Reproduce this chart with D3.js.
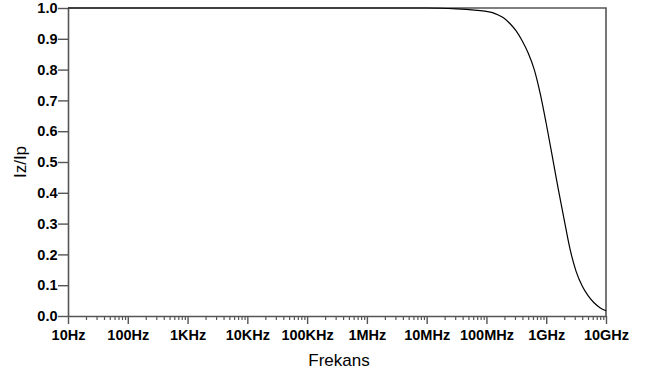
<!DOCTYPE html>
<html>
<head>
<meta charset="utf-8">
<script src="https://cdn.jsdelivr.net/npm/d3@7/dist/d3.min.js"></script>
<style>
  body { margin: 0; background: #fff; }
  svg { display: block; font-family: "Liberation Sans", Arial, sans-serif; }
</style>
</head>
<body>
<svg id="chart" width="649" height="378"></svg>
<script>
// Frequency response: ratio Iz/Ip versus frequency (Hz)
const frequencies = [1e1, 1e3, 1e5, 1e7, 3.16e7, 6.31e7, 1e8, 1.26e8, 1.58e8, 2e8, 2.51e8, 3.16e8,
                     3.98e8, 5.01e8, 6.31e8, 7.94e8, 1e9, 1.26e9, 1.58e9, 2e9, 2.51e9, 3.16e9,
                     3.98e9, 5.01e9, 6.31e9, 7.94e9, 1e10];
const ratio       = [1.0, 1.0, 1.0, 1.0, 0.997, 0.993, 0.989, 0.985, 0.977, 0.966, 0.948, 0.925,
                     0.893, 0.853, 0.800, 0.722, 0.625, 0.520, 0.415, 0.312, 0.216, 0.145,
                     0.098, 0.066, 0.043, 0.027, 0.017];

const xTickValues = [1e1, 1e2, 1e3, 1e4, 1e5, 1e6, 1e7, 1e8, 1e9, 1e10];
const xTickLabels = ["10Hz", "100Hz", "1KHz", "10KHz", "100KHz", "1MHz", "10MHz", "100MHz", "1GHz", "10GHz"];
const yTickValues = [0, 0.1, 0.2, 0.3, 0.4, 0.5, 0.6, 0.7, 0.8, 0.9, 1.0];

const margin = { left: 68, right: 43, top: 8, bottom: 62 };
const W = 649, H = 378;
const svg = d3.select("#chart");

const x = d3.scaleLog().domain([1e1, 1e10]).range([margin.left, W - margin.right]);
const y = d3.scaleLinear().domain([0, 1]).range([H - margin.bottom, margin.top]);

const axisColor = "#555";

// minor ticks (2..9 in every decade)
const minorTicks = [];
for (let d = 1; d < 10; d++) {
  for (let m = 2; m <= 9; m++) minorTicks.push(m * Math.pow(10, d));
}

const gMinor = svg.append("g")
  .attr("transform", `translate(0,${y(0)})`)
  .call(d3.axisBottom(x).tickValues(minorTicks).tickSize(4).tickFormat(""));
gMinor.select(".domain").remove();
gMinor.selectAll("line").attr("stroke", axisColor).attr("stroke-width", 1.2);

const gx = svg.append("g")
  .attr("transform", `translate(0,${y(0)})`)
  .call(d3.axisBottom(x).tickValues(xTickValues).tickSize(8).tickSizeOuter(0)
    .tickFormat((d, i) => xTickLabels[i]));
gx.select(".domain").attr("stroke", axisColor).attr("stroke-width", 1.6);
gx.selectAll("line").attr("stroke", axisColor).attr("stroke-width", 1.4);
gx.selectAll("text").attr("fill", "#000").attr("font-size", 14.5).attr("font-weight", "bold")
  .attr("dy", null).attr("y", 24);

const gy = svg.append("g")
  .attr("transform", `translate(${x(1e1)},0)`)
  .call(d3.axisLeft(y).tickValues(yTickValues).tickSize(10).tickSizeOuter(0)
    .tickFormat(d3.format(".1f")));
gy.select(".domain").attr("stroke", axisColor).attr("stroke-width", 1.6);
gy.selectAll("line").attr("stroke", axisColor).attr("stroke-width", 1.4);
gy.selectAll("text").attr("fill", "#000").attr("font-size", 14.5).attr("font-weight", "bold")
  .attr("x", -10.5);

// frame: top and right borders
svg.append("path")
  .attr("d", `M${x(1e1)},${y(1)}H${x(1e10)}V${y(0)}`)
  .attr("fill", "none").attr("stroke", axisColor).attr("stroke-width", 1.6);

// response curve
const line = d3.line()
  .x((d, i) => x(frequencies[i]))
  .y(d => y(d))
  .curve(d3.curveMonotoneX);

svg.append("path")
  .datum(ratio)
  .attr("d", line)
  .attr("fill", "none")
  .attr("stroke", "#000")
  .attr("stroke-width", 1.2);

// axis titles
svg.append("text")
  .attr("x", 339).attr("y", 366)
  .attr("text-anchor", "middle").attr("font-size", 17)
  .text("Frekans");

svg.append("text")
  .attr("transform", `translate(26,${(y(0) + y(1)) / 2}) rotate(-90)`)
  .attr("text-anchor", "middle").attr("font-size", 17)
  .text("Iz/Ip");
</script>
</body>
</html>
